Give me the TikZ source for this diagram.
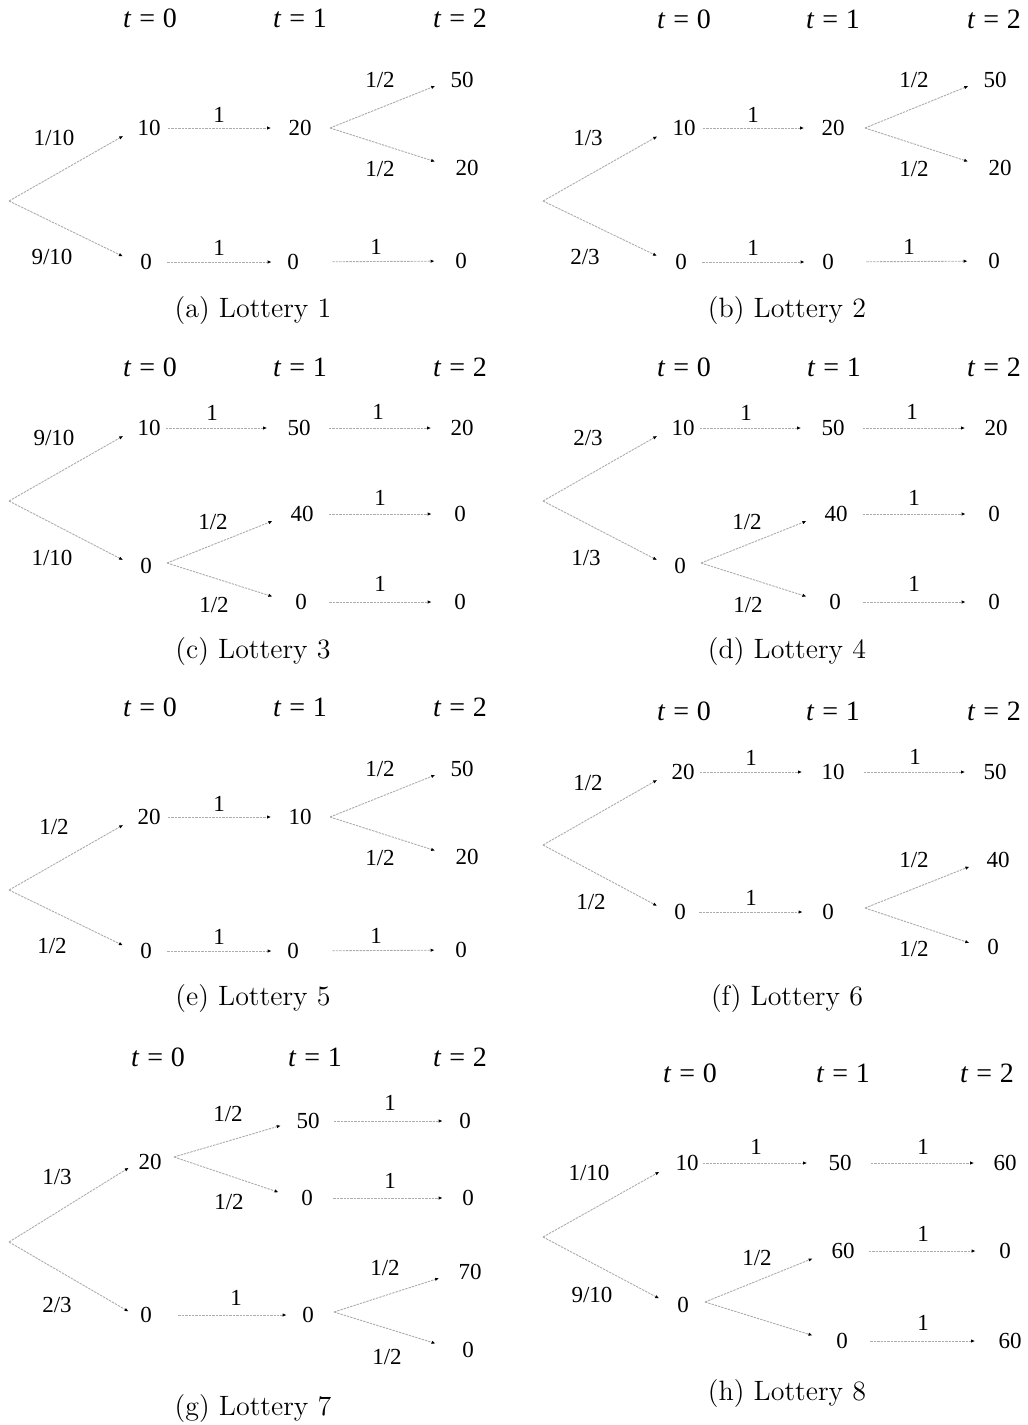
\documentclass[tikz,border=0pt]{standalone}
\usepackage{fontspec}
\newfontfamily\numf{Liberation Serif}
\usetikzlibrary{arrows.meta}
\newcommand{\tlab}[1]{\textit{t}\hspace{0.28em}=\hspace{0.28em}#1}
\tikzset{
  val/.style={font={\numf\fontsize{11.5}{13}\selectfont}, inner sep=0pt, minimum width=11pt, minimum height=8pt},
  lab/.style={font={\numf\fontsize{11.5}{13}\selectfont}, inner sep=0pt},
  tl/.style={font={\numf\fontsize{14}{16}\selectfont}, inner sep=0pt},
  capt/.style={font={\fontsize{14}{17}\selectfont}, inner sep=0pt},
  arrbase/.style={line width=0.45pt, draw=gray!65, dash pattern=on 1.2pt off 0.5pt, -{Latex[length=2pt,width=1.7pt,color=black]}},
  darr/.style={arrbase, shorten >=8pt},
  harr/.style={arrbase, shorten <=4pt, shorten >=8pt},
}
\begin{document}
\begin{tikzpicture}[x=0.5pt,y=-0.5pt]
\useasboundingbox (0,0) rectangle (1028,1425);
% ================= (a) =================
\node[tl] (at0) at (150,18) {\tlab{0}};
\node[tl] (at1) at (300,18) {\tlab{1}};
\node[tl] (at2) at (460,18) {\tlab{2}};
\coordinate (ar) at (9,201);
\coordinate (ax) at (330,128);
\node[val] (a10) at (149,128) {10};
\node[val] (a20) at (300,128) {20};
\node[val] (a50) at (462,80) {50};
\node[val] (a20b) at (467,168) {20};
\node[val] (a0) at (146,262) {0};
\node[val] (a0b) at (293,262) {0};
\node[val] (a0c) at (461,261) {0};
\node[lab] (al1) at (54,138) {1/10};
\node[lab] (al2) at (52,257) {9/10};
\node[lab] (al3) at (219,115) {1};
\node[lab] (al4) at (380,80) {1/2};
\node[lab] (al5) at (380,169) {1/2};
\node[lab] (al6) at (219,248) {1};
\node[lab] (al7) at (376,247) {1};
\draw[darr] (ar) -- (a10.west);
\draw[darr, shorten >=6.5pt] (ar) -- (a0.west);
\draw[harr, shorten <=3.5pt, shorten >=8.5pt] (a10) -- (a20);
\draw[darr] (ax) -- (a50.west);
\draw[darr, shorten >=10.5pt] (ax) -- (a20b.west);
\draw[harr, shorten <=5pt, shorten >=5pt] (a0) -- (a0b);
\draw[harr, shorten <=14pt, shorten >=7.5pt] (a0b) -- (a0c);
\node[capt] (acap) at (253,311) {(a) Lottery 1};
% ================= (b) =================
\node[tl] (bt0) at (684,19) {\tlab{0}};
\node[tl] (bt1) at (833,19) {\tlab{1}};
\node[tl] (bt2) at (994,19) {\tlab{2}};
\coordinate (br) at (543,201);
\coordinate (bx) at (865,128);
\node[val] (b10) at (684,128) {10};
\node[val] (b20) at (833,128) {20};
\node[val] (b50) at (995,80) {50};
\node[val] (b20b) at (1000,168) {20};
\node[val] (b0) at (681,262) {0};
\node[val] (b0b) at (828,262) {0};
\node[val] (b0c) at (994,261) {0};
\node[lab] (bl1) at (588,138) {1/3};
\node[lab] (bl2) at (585,257) {2/3};
\node[lab] (bl3) at (753,115) {1};
\node[lab] (bl4) at (914,80) {1/2};
\node[lab] (bl5) at (914,169) {1/2};
\node[lab] (bl6) at (753,248) {1};
\node[lab] (bl7) at (909,247) {1};
\draw[darr, shorten >=8.5pt] (br) -- (b10.west);
\draw[darr, shorten >=7pt] (br) -- (b0.west);
\draw[harr, shorten <=3.5pt, shorten >=8.5pt] (b10) -- (b20);
\draw[darr] (bx) -- (b50.west);
\draw[darr, shorten >=10.5pt] (bx) -- (b20b.west);
\draw[harr, shorten <=5pt, shorten >=6pt] (b0) -- (b0b);
\draw[harr, shorten <=13.5pt, shorten >=7.5pt] (b0b) -- (b0c);
\node[capt] (bcap) at (787,311) {(b) Lottery 2};
% ================= (c) =================
\node[tl] (ct0) at (150,367) {\tlab{0}};
\node[tl] (ct1) at (300,367) {\tlab{1}};
\node[tl] (ct2) at (460,367) {\tlab{2}};
\coordinate (cr) at (9,501);
\coordinate (cx) at (167,563);
\node[val] (c10) at (149,428) {10};
\node[val] (c50) at (299,428) {50};
\node[val] (c20) at (462,428) {20};
\node[val] (c0) at (146,566) {0};
\node[val] (c40) at (302,514) {40};
\node[val] (c0b) at (301,602) {0};
\node[val] (c0c) at (460,514) {0};
\node[val] (c0d) at (460,602) {0};
\node[lab] (cl1) at (54,438) {9/10};
\node[lab] (cl2) at (52,558) {1/10};
\node[lab] (cl3) at (212,413) {1};
\node[lab] (cl4) at (378,412) {1};
\node[lab] (cl5) at (213,522) {1/2};
\node[lab] (cl6) at (214,605) {1/2};
\node[lab] (cl7) at (380,498) {1};
\node[lab] (cl8) at (380,584) {1};
\draw[darr] (cr) -- (c10.west);
\draw[darr, shorten >=6.5pt] (cr) -- (c0.west);
\draw[harr, shorten <=2.5pt, shorten >=10pt] (c10) -- (c50);
\draw[harr, shorten <=9pt, shorten >=9.5pt] (c50) -- (c20);
\draw[darr, shorten >=9.5pt] (cx) -- (c40.west);
\draw[darr, shorten >=9pt] (cx) -- (c0b.west);
\draw[harr, shorten <=7.5pt, shorten >=8.5pt] (c40) -- (c0c);
\draw[harr, shorten <=8.5pt, shorten >=8.5pt] (c0b) -- (c0d);
\node[capt] (ccap) at (253,652) {(c) Lottery 3};
% ================= (d) =================
\node[tl] (dt0) at (684,367) {\tlab{0}};
\node[tl] (dt1) at (834,367) {\tlab{1}};
\node[tl] (dt2) at (994,367) {\tlab{2}};
\coordinate (dr) at (543,501);
\coordinate (dx) at (701,563);
\node[val] (d10) at (683,428) {10};
\node[val] (d50) at (833,428) {50};
\node[val] (d20) at (996,428) {20};
\node[val] (d0) at (680,566) {0};
\node[val] (d40) at (836,514) {40};
\node[val] (d0b) at (835,602) {0};
\node[val] (d0c) at (994,514) {0};
\node[val] (d0d) at (994,602) {0};
\node[lab] (dl1) at (588,438) {2/3};
\node[lab] (dl2) at (586,558) {1/3};
\node[lab] (dl3) at (746,413) {1};
\node[lab] (dl4) at (912,412) {1};
\node[lab] (dl5) at (747,522) {1/2};
\node[lab] (dl6) at (748,605) {1/2};
\node[lab] (dl7) at (914,498) {1};
\node[lab] (dl8) at (914,584) {1};
\draw[darr] (dr) -- (d10.west);
\draw[darr, shorten >=6.5pt] (dr) -- (d0.west);
\draw[harr, shorten <=2.5pt, shorten >=10pt] (d10) -- (d50);
\draw[harr, shorten <=9pt, shorten >=9.5pt] (d50) -- (d20);
\draw[darr, shorten >=9.5pt] (dx) -- (d40.west);
\draw[darr, shorten >=9pt] (dx) -- (d0b.west);
\draw[harr, shorten <=7.5pt, shorten >=8.5pt] (d40) -- (d0c);
\draw[harr, shorten <=8.5pt, shorten >=8.5pt] (d0b) -- (d0d);
\node[capt] (dcap) at (787,652) {(d) Lottery 4};
% ================= (e) =================
\node[tl] (et0) at (150,707) {\tlab{0}};
\node[tl] (et1) at (300,707) {\tlab{1}};
\node[tl] (et2) at (460,707) {\tlab{2}};
\coordinate (er) at (9,890);
\coordinate (ex) at (330,817);
\node[val] (e20) at (149,817) {20};
\node[val] (e10) at (300,817) {10};
\node[val] (e50) at (462,769) {50};
\node[val] (e20b) at (467,857) {20};
\node[val] (e0) at (146,951) {0};
\node[val] (e0b) at (293,951) {0};
\node[val] (e0c) at (461,950) {0};
\node[lab] (el1) at (54,827) {1/2};
\node[lab] (el2) at (52,946) {1/2};
\node[lab] (el3) at (219,804) {1};
\node[lab] (el4) at (380,769) {1/2};
\node[lab] (el5) at (380,858) {1/2};
\node[lab] (el6) at (219,937) {1};
\node[lab] (el7) at (376,936) {1};
\draw[darr] (er) -- (e20.west);
\draw[darr, shorten >=6.5pt] (er) -- (e0.west);
\draw[harr, shorten <=3.5pt, shorten >=8.5pt] (e20) -- (e10);
\draw[darr] (ex) -- (e50.west);
\draw[darr, shorten >=10.5pt] (ex) -- (e20b.west);
\draw[harr, shorten <=5pt, shorten >=5pt] (e0) -- (e0b);
\draw[harr, shorten <=14pt, shorten >=7.5pt] (e0b) -- (e0c);
\node[capt] (ecap) at (253,999) {(e) Lottery 5};
% ================= (f) =================
\node[tl] (ft0) at (684,711) {\tlab{0}};
\node[tl] (ft1) at (833,711) {\tlab{1}};
\node[tl] (ft2) at (994,711) {\tlab{2}};
\coordinate (fr) at (543,845);
\coordinate (fx) at (865,908);
\node[val] (f20) at (683,772) {20};
\node[val] (f10) at (833,772) {10};
\node[val] (f50) at (995,772) {50};
\node[val] (f0) at (680,912) {0};
\node[val] (f0b) at (828,912) {0};
\node[val] (f40) at (998,860) {40};
\node[val] (f0c) at (993,947) {0};
\node[lab] (fl1) at (588,783) {1/2};
\node[lab] (fl2) at (591,902) {1/2};
\node[lab] (fl3) at (751,758) {1};
\node[lab] (fl4) at (915,757) {1};
\node[lab] (fl5) at (751,898) {1};
\node[lab] (fl6) at (914,860) {1/2};
\node[lab] (fl7) at (914,949) {1/2};
\draw[darr] (fr) -- (f20.west);
\draw[darr, shorten >=6.5pt] (fr) -- (f0.west);
\draw[harr, shorten <=2.5pt, shorten >=9.5pt] (f20) -- (f10);
\draw[harr, shorten <=9.5pt, shorten >=9pt] (f10) -- (f50);
\draw[harr, shorten <=4pt, shorten >=7pt] (f0) -- (f0b);
\draw[darr, shorten >=9pt] (fx) -- (f40.west);
\draw[darr, shorten >=6.5pt] (fx) -- (f0c.west);
\node[capt] (fcap) at (787,998) {(f) Lottery 6};
% ================= (g) =================
\node[tl] (gt0) at (158,1057) {\tlab{0}};
\node[tl] (gt1) at (315,1057) {\tlab{1}};
\node[tl] (gt2) at (460,1057) {\tlab{2}};
\coordinate (gr) at (9,1242);
\coordinate (gx1) at (174,1157);
\coordinate (gx2) at (334,1312);
\node[val] (g20) at (150,1162) {20};
\node[val] (g0) at (146,1315) {0};
\node[val] (g50) at (308,1121) {50};
\node[val] (g0b) at (307,1198) {0};
\node[val] (g0c) at (465,1121) {0};
\node[val] (g0d) at (468,1198) {0};
\node[val] (g0e) at (308,1315) {0};
\node[val] (g70) at (470,1272) {70};
\node[val] (g0f) at (468,1350) {0};
\node[lab] (gl1) at (57,1177) {1/3};
\node[lab] (gl2) at (57,1305) {2/3};
\node[lab] (gl3) at (228,1114) {1/2};
\node[lab] (gl4) at (229,1202) {1/2};
\node[lab] (gl5) at (390,1103) {1};
\node[lab] (gl6) at (390,1181) {1};
\node[lab] (gl7) at (236,1298) {1};
\node[lab] (gl8) at (385,1268) {1/2};
\node[lab] (gl9) at (387,1357) {1/2};
\draw[darr, shorten >=5.5pt] (gr) -- (g20.west);
\draw[darr, shorten >=3.5pt] (gr) -- (g0.west);
\draw[darr] (gx1) -- (g50.west);
\draw[darr, shorten >=9pt] (gx1) -- (g0b.west);
\draw[harr, shorten <=7pt, shorten >=5.5pt] (g50) -- (g0c);
\draw[harr, shorten <=7.5pt, shorten >=7pt] (g0b) -- (g0d);
\draw[harr, shorten <=10.5pt, shorten >=5pt] (g0) -- (g0e);
\draw[darr, shorten >=10pt] (gx2) -- (g70.west);
\draw[darr, shorten >=11pt] (gx2) -- (g0f.west);
\node[capt] (gcap) at (253,1408) {(g) Lottery 7};
% ================= (h) =================
\node[tl] (ht0) at (690,1073) {\tlab{0}};
\node[tl] (ht1) at (843,1073) {\tlab{1}};
\node[tl] (ht2) at (987,1073) {\tlab{2}};
\coordinate (hr) at (543,1237);
\coordinate (hx) at (705,1302);
\node[val] (h10) at (687,1163) {10};
\node[val] (h50) at (840,1163) {50};
\node[val] (h60) at (1005,1163) {60};
\node[val] (h0) at (683,1305) {0};
\node[val] (h60b) at (843,1251) {60};
\node[val] (h0b) at (842,1341) {0};
\node[val] (h0c) at (1005,1251) {0};
\node[val] (h60c) at (1010,1341) {60};
\node[lab] (hl1) at (589,1173) {1/10};
\node[lab] (hl2) at (592,1295) {9/10};
\node[lab] (hl3) at (756,1147) {1};
\node[lab] (hl4) at (923,1147) {1};
\node[lab] (hl5) at (757,1258) {1/2};
\node[lab] (hl6) at (923,1234) {1};
\node[lab] (hl7) at (923,1323) {1};
\draw[darr, shorten >=9pt] (hr) -- (h10.west);
\draw[darr, shorten >=7pt] (hr) -- (h0.west);
\draw[harr, shorten <=2pt, shorten >=10.5pt] (h10) -- (h50);
\draw[harr, shorten <=9.5pt, shorten >=9.5pt] (h50) -- (h60);
\draw[darr, shorten >=10pt] (hx) -- (h60b.west);
\draw[darr, shorten >=9.5pt] (hx) -- (h0b.west);
\draw[harr, shorten <=7pt, shorten >=9pt] (h60b) -- (h0c);
\draw[harr, shorten <=8.5pt, shorten >=11.5pt] (h0b) -- (h60c);
\node[capt] (hcap) at (787,1393) {(h) Lottery 8};
\end{tikzpicture}
\end{document}
